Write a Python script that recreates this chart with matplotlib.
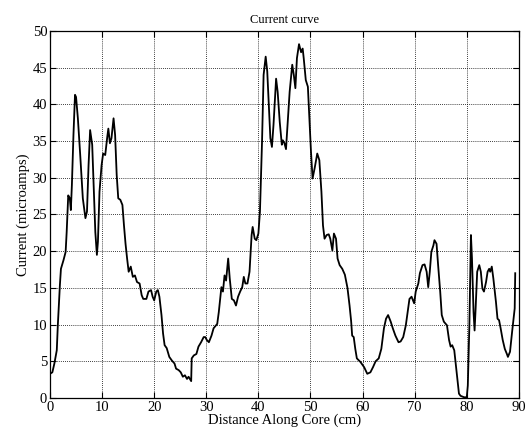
import matplotlib
matplotlib.use("Agg")
from matplotlib import pyplot as plt

# points
dist = [0.0, 0.45, 0.84, 1.3, 1.5, 1.9, 2.1, 2.6, 3.0, 3.2, 3.5, 3.8, 4.0, 4.2, 4.5, 4.8, 5.0,
        5.35, 5.8, 6.3, 6.8, 7.1, 7.4, 7.7, 8.1, 8.4, 8.7, 9.0, 9.2, 9.5, 9.9, 10.2, 10.6,
        11.0, 11.2, 11.5, 11.8, 12.2, 12.5, 12.8, 13.1, 13.5, 13.9, 14.2, 14.5, 14.8, 15.1,
        15.5, 15.9, 16.3, 16.7, 17.2, 17.6, 17.9, 18.5, 18.9, 19.4, 19.7, 20.0, 20.4, 20.7,
        21.0, 21.4, 21.7, 22.0, 22.4, 22.9, 23.4, 23.9, 24.2, 24.7, 25.1, 25.5, 25.9, 26.3,
        26.6, 27.1, 27.2, 27.6, 28.1, 28.5, 29.0, 29.5, 29.8, 30.1, 30.5, 31.0, 31.4, 32.1,
        32.4, 32.9, 33.2, 33.5, 33.8, 34.2, 34.5, 34.9, 35.3, 35.7, 36.1, 36.5, 36.9, 37.2,
        37.5, 37.9, 38.3, 38.7, 38.9, 39.3, 39.6, 40.0, 40.3, 40.7, 41.0, 41.4, 41.7, 42.0,
        42.3, 42.6, 42.9, 43.4, 43.7, 44.1, 44.5, 44.7, 45.0, 45.3, 45.6, 46.0, 46.5, 46.8,
        47.1, 47.4, 47.8, 48.2, 48.5, 48.7, 49.1, 49.5, 49.8, 50.1, 50.4, 50.8, 51.3, 51.7,
        52.1, 52.4, 52.7, 53.1, 53.5, 53.8, 54.2, 54.5, 54.9, 55.2, 55.6, 56.1, 56.6, 57.1,
        57.5, 57.8, 58.0, 58.3, 58.6, 58.9, 59.6, 60.3, 60.9, 61.5, 62.0, 62.5, 63.1, 63.6,
        64.1, 64.5, 64.9, 65.4, 65.8, 66.3, 66.9, 67.3, 67.8, 68.3, 68.7, 69.0, 69.4, 69.9,
        70.2, 70.7, 71.0, 71.5, 71.9, 72.3, 72.6, 72.9, 73.2, 73.6, 73.8, 74.2, 74.5, 74.9,
        75.2, 75.6, 76.2, 76.6, 76.9, 77.2, 77.6, 77.9, 78.3, 78.5, 78.8, 79.5, 80.0, 80.2,
        80.5, 80.8, 81.0, 81.3, 81.5, 81.7, 82.0, 82.4, 82.7, 83.0, 83.3, 83.7, 84.0, 84.3,
        84.5, 84.8, 85.1, 85.6, 85.9, 86.2, 86.5, 86.9, 87.3, 87.7, 87.9, 88.3, 88.7, 89.2,
        89.25, 89.3]
current = [3.3, 3.5, 4.7, 6.5, 9.9, 15.4, 17.6, 18.8, 19.9, 22.6, 27.6, 27.2, 25.6, 29.0, 35.8,
           41.3, 41.0, 38.1, 33.1, 27.2, 24.5, 25.4, 31.7, 36.5, 34.5, 28.5, 22.6, 19.5, 21.3,
           28.1, 31.7, 33.3, 33.1, 35.6, 36.7, 34.7, 35.4, 38.1, 35.8, 30.4, 27.2, 27.0, 26.3,
           23.5, 21.0, 19.0, 17.2, 17.9, 16.5, 16.7, 15.8, 15.6, 14.0, 13.5, 13.5, 14.5, 14.7,
           13.8, 13.3, 14.5, 14.7, 13.8, 11.3, 8.8, 7.2, 6.8, 5.6, 5.1, 4.7, 4.0, 3.8, 3.5, 2.9,
           3.1, 2.6, 2.9, 2.3, 5.4, 5.8, 6.0, 7.0, 7.6, 8.3, 8.3, 7.9, 7.6, 8.5, 9.5, 10.1, 11.7,
           15.1, 14.5, 16.7, 16.0, 19.0, 16.3, 13.5, 13.3, 12.6, 13.8, 14.5, 15.1, 16.5, 15.6,
           15.6, 17.2, 22.2, 23.3, 21.7, 21.5, 22.4, 25.4, 34.9, 44.0, 46.5, 44.5, 39.9, 35.4,
           34.2, 37.2, 43.5, 41.7, 37.6, 34.5, 35.1, 34.7, 33.9, 37.2, 41.7, 45.4, 44.0, 42.2,
           46.3, 48.2, 47.1, 47.6, 46.3, 43.3, 42.4, 38.1, 33.5, 29.9, 31.3, 33.3, 32.4, 28.1,
           23.5, 21.7, 22.2, 22.3, 21.7, 20.1, 22.4, 21.7, 19.0, 18.1, 17.6, 16.8, 15.0, 12.6,
           10.5, 8.5, 8.3, 6.7, 5.4, 4.9, 4.2, 3.3, 3.5, 4.2, 5.0, 5.4, 6.7, 9.5, 10.8, 11.3,
           10.4, 9.5, 8.5, 7.6, 7.7, 8.3, 9.9, 12.0, 13.5, 13.8, 12.9, 14.5, 15.6, 17.0, 18.1,
           18.2, 17.2, 15.1, 17.2, 19.9, 20.8, 21.5, 21.0, 18.1, 14.5, 11.3, 10.4, 9.9, 7.9, 7.0,
           7.2, 6.5, 4.5, 1.7, 0.6, 0.3, 0.1, 0.1, 1.7, 9.9, 22.2, 19.0, 11.7, 9.2, 12.2, 17.2,
           18.1, 17.2, 14.9, 14.5, 15.8, 17.2, 17.6, 17.2, 17.9, 16.3, 13.1, 10.8, 10.6, 9.5,
           7.9, 6.7, 6.0, 5.6, 6.3, 9.0, 12.2, 14.5, 17.0]

xticks = list(range(0, 91, 10))
yticks = list(range(0, 51, 5))

plt.rcParams['font.family'] = ['Liberation Serif', 'DejaVu Serif']
plt.rcParams['font.size'] = 10.5

fig = plt.figure(figsize=(5.28, 4.37), dpi=100)
ax = fig.add_axes([0.0947, 0.0892, 0.888, 0.84])
ax.plot(dist, current, color='black', linewidth=1.3)
ax.set_xlim(0, 90)
ax.set_ylim(0, 50)
ax.set_xticks(xticks)
ax.set_yticks(yticks)
ax.grid(True, color='black', linestyle=(0, (1, 1.5)), linewidth=0.6)
ax.tick_params(direction='in', top=True, right=True, length=4, pad=2, labelsize=10.5)
for s in ax.spines.values():
    s.set_linewidth(0.9)
ax.set_title('Current curve', fontsize=9, pad=6)
ax.set_xlabel('Distance Along Core (cm)', labelpad=0)
ax.set_ylabel('Current (microamps)', labelpad=2)
fig.savefig('out.png', dpi=100)
